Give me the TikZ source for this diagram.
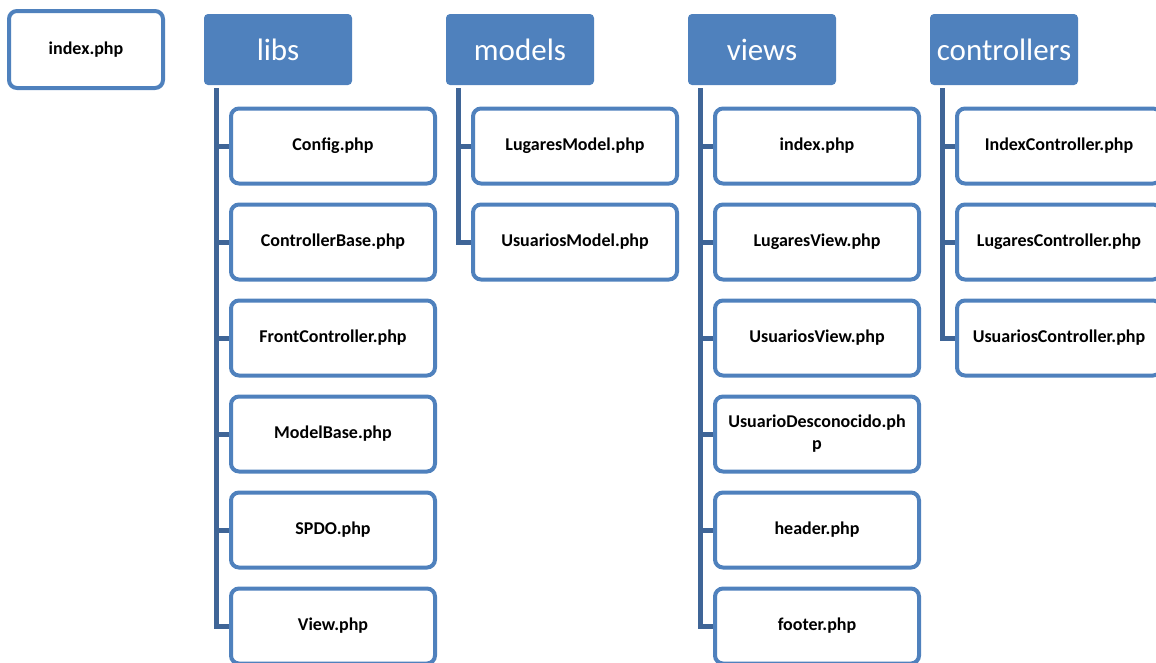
\documentclass[tikz,border=0pt]{standalone}
\usepackage{fontspec}
\setmainfont{Carlito}
\usetikzlibrary{backgrounds}
\definecolor{boxblue}{HTML}{4F81BD}
\definecolor{trunkblue}{HTML}{3F6597}

\begin{document}
\begin{tikzpicture}[x=1pt,y=-1pt,
  filebox/.style={draw=boxblue, line width=4pt, fill=white, rounded corners=8pt,
    minimum width=204pt, minimum height=75pt, inner sep=2pt, text width=196pt,
    align=center, font=\fontsize{18}{22}\selectfont\bfseries},
  headbox/.style={fill=boxblue, rounded corners=4pt, minimum width=148pt,
    minimum height=71pt, inner sep=0pt, text=white, font=\fontsize{31}{36}\selectfont},
  branch/.style={draw=trunkblue, line width=5pt}]
\useasboundingbox (0,0) rectangle (1156,662);
\clip (0,0) rectangle (1156,662);

% entry point
\node[filebox, minimum width=154pt, minimum height=77pt, text width=146pt] (entry) at (86,49.5) {index.php};

% folder headers
\node[headbox] (libs)  at (278,49.5)  {libs};
\node[headbox] (models) at (520,49.5) {models};
\node[headbox] (views) at (762,49.5)  {views};
\node[headbox] (ctrls) at (1004,49.5) {controllers};

% libs
\node[filebox] (l1) at (333,146) {Config.php};
\node[filebox] (l2) at (333,242) {ControllerBase.php};
\node[filebox] (l3) at (333,338) {FrontController.php};
\node[filebox] (l4) at (333,434) {ModelBase.php};
\node[filebox] (l5) at (333,530) {SPDO.php};
\node[filebox] (l6) at (333,626) {View.php};

% models
\node[filebox] (m1) at (575,146) {LugaresModel.php};
\node[filebox] (m2) at (575,242) {UsuariosModel.php};

% views
\node[filebox] (v1) at (817,146) {index.php};
\node[filebox] (v2) at (817,242) {LugaresView.php};
\node[filebox] (v3) at (817,338) {UsuariosView.php};
\node[filebox] (v4) at (817,434) {UsuarioDesconocido.ph\\p};
\node[filebox] (v5) at (817,530) {header.php};
\node[filebox] (v6) at (817,626) {footer.php};

% controllers
\node[filebox] (c1) at (1059,146) {IndexController.php};
\node[filebox] (c2) at (1059,242) {LugaresController.php};
\node[filebox] (c3) at (1059,338) {UsuariosController.php};

% trunks and branches
\begin{scope}[on background layer]
  \coordinate (libsT)   at ([xshift=12.5pt,yshift=-3pt]libs.south west);
  \coordinate (modelsT) at ([xshift=12.5pt,yshift=-3pt]models.south west);
  \coordinate (viewsT)  at ([xshift=12.5pt,yshift=-3pt]views.south west);
  \coordinate (ctrlsT)  at ([xshift=12.5pt,yshift=-3pt]ctrls.south west);
  \foreach \n in {l1,l2,l3,l4,l5,l6} \draw[branch] (libsT) |- (\n.west);
  \foreach \n in {m1,m2} \draw[branch] (modelsT) |- (\n.west);
  \foreach \n in {v1,v2,v3,v4,v5,v6} \draw[branch] (viewsT) |- (\n.west);
  \foreach \n in {c1,c2,c3} \draw[branch] (ctrlsT) |- (\n.west);
\end{scope}
\end{tikzpicture}
\end{document}
